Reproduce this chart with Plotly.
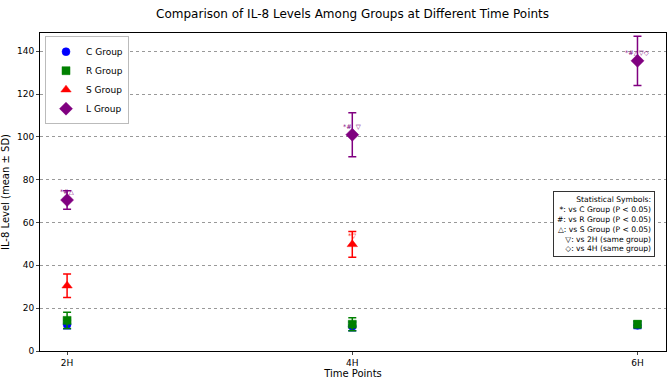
import plotly.graph_objects as go

time_points = ["2H", "4H", "6H"]
groups = ["C Group", "R Group", "S Group", "L Group"]
c_mean = [12.4, 11.5, 12.0]
c_sd = [2.0, 2.0, 1.5]
r_mean = [14.3, 12.5, 12.5]
r_sd = [3.8, 3.0, 1.5]
s_mean = [30.5, 49.8, None]
s_sd = [5.5, 6.0, None]
l_mean = [70.5, 101.0, 135.5]
l_sd = [4.3, 10.3, 11.5]
l_sig = ["*#△", "*#  ▽", "*#△▽◇"]
s_sig = ["", "*▽", ""]

colors = ["#0000ff", "#008000", "#ff0000", "#800080"]
symbols = ["circle", "square", "triangle-up", "diamond"]
sizes = [8, 8, 9, 10]
means = [c_mean, r_mean, s_mean, l_mean]
sds = [c_sd, r_sd, s_sd, l_sd]

FONT = "DejaVu Sans"
fig = go.Figure()
for g, m, s, col, sym, sz in zip(groups, means, sds, colors, symbols, sizes):
    fig.add_trace(go.Scatter(
        x=time_points, y=m, name=g, mode="markers",
        marker=dict(color=col, symbol=sym, size=sz, line=dict(color=col, width=0.5)),
        error_y=dict(type="data", array=s, visible=True, color=col, thickness=1.5, width=4),
    ))

for tp, m, sig in zip(time_points, l_mean, l_sig):
    if sig:
        fig.add_annotation(x=tp, y=m, text=sig, showarrow=False, yshift=8,
                           font=dict(size=6.5, color="#800080", family=FONT))
for tp, m, sig in zip(time_points, s_mean, s_sig):
    if sig and m is not None:
        fig.add_annotation(x=tp, y=m, text=sig, showarrow=False, yshift=8,
                           font=dict(size=6.5, color="#ff0000", family=FONT))

fig.add_annotation(
    xref="paper", yref="paper", x=0.983, y=0.295, xanchor="right", yanchor="bottom",
    text="Statistical Symbols:<br>*: vs C Group (P < 0.05)<br>#: vs R Group (P < 0.05)<br>△: vs S Group (P < 0.05)<br>▽: vs 2H (same group)<br>◇: vs 4H (same group)",
    align="right", showarrow=False, bgcolor="white", bordercolor="#333", borderwidth=1, borderpad=3,
    font=dict(size=7.6, color="black", family=FONT),
)

fig.update_layout(
    width=669, height=380, autosize=False,
    margin=dict(l=40, r=2, t=33, b=28),
    paper_bgcolor="white", plot_bgcolor="white",
    font=dict(family=FONT, size=9, color="black"),
    title=dict(text="Comparison of IL-8 Levels Among Groups at Different Time Points",
               x=0.527, xanchor="center", y=0.975, yanchor="top", font=dict(size=12)),
    legend=dict(x=0.008, y=0.99, xanchor="left", yanchor="top", bordercolor="#bbb", borderwidth=1,
                bgcolor="white", font=dict(size=9), tracegroupgap=0, itemsizing="trace"),
    xaxis=dict(title=dict(text="Time Points", standoff=3, font=dict(size=10)),
               type="category", range=[-0.095, 2.1], showgrid=False, showline=True, linecolor="black",
               mirror=True, ticks="outside", ticklen=3, zeroline=False),
    yaxis=dict(title=dict(text="IL-8 Level (mean ± SD)", standoff=6, font=dict(size=10)),
               range=[0, 148.5], tickvals=[0, 20, 40, 60, 80, 100, 120, 140],
               showgrid=True, gridcolor="#999", griddash="dot", gridwidth=1,
               showline=True, linecolor="black", mirror=True, ticks="outside", ticklen=3, zeroline=False),
)

fig.write_html("out.html", config={"responsive": False, "displayModeBar": False},
               post_script="document.body.style.margin='0';document.body.style.padding='0';"
                           "Plotly.relayout(document.getElementById('{plot_id}'), {width: 669, height: 380});")
